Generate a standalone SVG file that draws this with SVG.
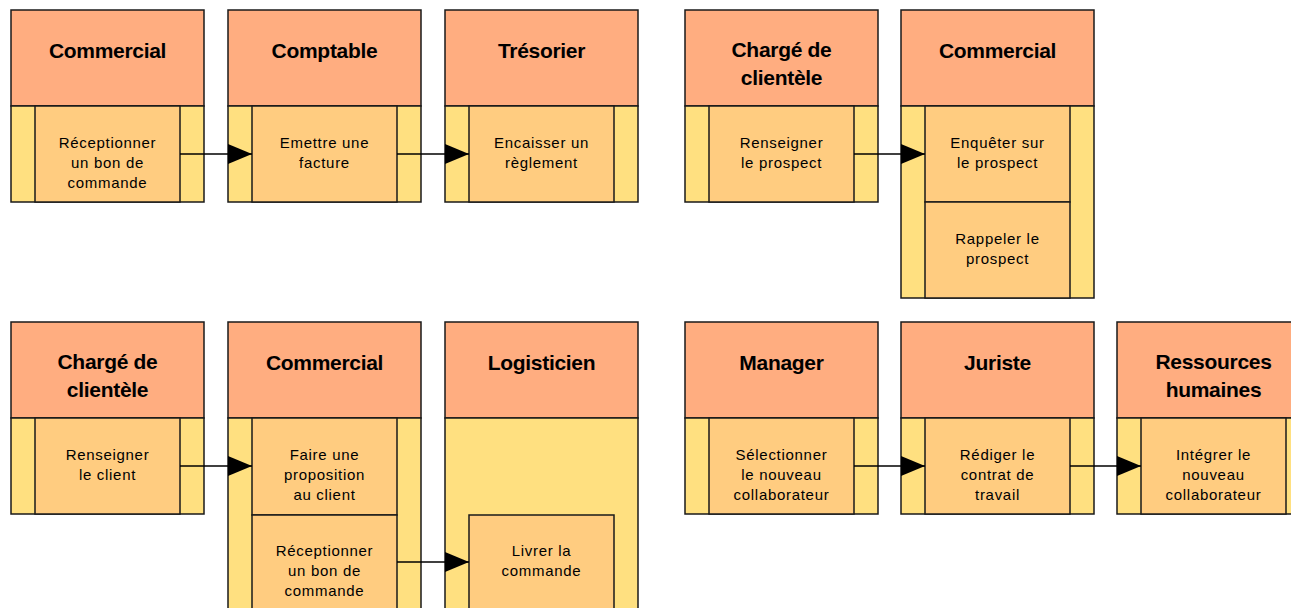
<svg xmlns="http://www.w3.org/2000/svg" width="1291" height="608" viewBox="0 0 1291 608">
<style>
.hd{fill:#FFAD80;stroke:#1a1a1a;stroke-width:1.5}
.bd{fill:#FFE080;stroke:#1a1a1a;stroke-width:1.5}
.tk{fill:#FFCC80;stroke:#1a1a1a;stroke-width:1.5}
.ht{font-family:"Liberation Sans",Arial,sans-serif;font-weight:bold;font-size:21px;text-anchor:middle;fill:#000;letter-spacing:-0.3px}
.tt{font-family:"Liberation Sans",Arial,sans-serif;font-size:15px;text-anchor:middle;fill:#000;letter-spacing:0.7px}
.cn{stroke:#000;stroke-width:1.5;fill:none;marker-end:url(#ah)}
</style>
<defs>
<marker id="ah" markerUnits="userSpaceOnUse" markerWidth="24" markerHeight="20" refX="24" refY="10" orient="auto">
<path d="M0,0 L24,10 L0,20 z" fill="#000"/>
</marker>
</defs>
<rect width="1291" height="608" fill="#fff"/>

<!-- Row 1 -->
<g id="lane-commercial-1">
<rect class="hd" x="11" y="10" width="193" height="96"/>
<text class="ht" x="107.5" y="58">Commercial</text>
<rect class="bd" x="11" y="106" width="193" height="96"/>
<g id="task-receptionner-1">
<rect class="tk" x="35" y="106" width="145" height="96"/>
<text class="tt" x="107.5" y="148">Réceptionner</text>
<text class="tt" x="107.5" y="168">un bon de</text>
<text class="tt" x="107.5" y="188">commande</text>
</g>
</g>

<g id="lane-comptable">
<rect class="hd" x="228" y="10" width="193" height="96"/>
<text class="ht" x="324.5" y="58">Comptable</text>
<rect class="bd" x="228" y="106" width="193" height="96"/>
<g id="task-emettre">
<rect class="tk" x="252" y="106" width="145" height="96"/>
<text class="tt" x="324.5" y="148">Emettre une</text>
<text class="tt" x="324.5" y="168">facture</text>
</g>
</g>

<g id="lane-tresorier">
<rect class="hd" x="445" y="10" width="193" height="96"/>
<text class="ht" x="541.5" y="58">Trésorier</text>
<rect class="bd" x="445" y="106" width="193" height="96"/>
<g id="task-encaisser">
<rect class="tk" x="469" y="106" width="145" height="96"/>
<text class="tt" x="541.5" y="148">Encaisser un</text>
<text class="tt" x="541.5" y="168">règlement</text>
</g>
</g>

<g id="lane-charge-1">
<rect class="hd" x="685" y="10" width="193" height="96"/>
<text class="ht" x="781.5" y="57">Chargé de</text>
<text class="ht" x="781.5" y="85">clientèle</text>
<rect class="bd" x="685" y="106" width="193" height="96"/>
<g id="task-renseigner-prospect">
<rect class="tk" x="709" y="106" width="145" height="96"/>
<text class="tt" x="781.5" y="148">Renseigner</text>
<text class="tt" x="781.5" y="168">le prospect</text>
</g>
</g>

<g id="lane-commercial-2">
<rect class="hd" x="901" y="10" width="193" height="96"/>
<text class="ht" x="997.5" y="58">Commercial</text>
<rect class="bd" x="901" y="106" width="193" height="192"/>
<g id="task-enqueter">
<rect class="tk" x="925" y="106" width="145" height="96"/>
<text class="tt" x="997.5" y="148">Enquêter sur</text>
<text class="tt" x="997.5" y="168">le prospect</text>
</g>
<g id="task-rappeler">
<rect class="tk" x="925" y="202" width="145" height="96"/>
<text class="tt" x="997.5" y="244">Rappeler le</text>
<text class="tt" x="997.5" y="264">prospect</text>
</g>
</g>

<!-- Row 2 -->
<g id="lane-charge-2">
<rect class="hd" x="11" y="322" width="193" height="96"/>
<text class="ht" x="107.5" y="369">Chargé de</text>
<text class="ht" x="107.5" y="397">clientèle</text>
<rect class="bd" x="11" y="418" width="193" height="96"/>
<g id="task-renseigner-client">
<rect class="tk" x="35" y="418" width="145" height="96"/>
<text class="tt" x="107.5" y="460">Renseigner</text>
<text class="tt" x="107.5" y="480">le client</text>
</g>
</g>

<g id="lane-commercial-3">
<rect class="hd" x="228" y="322" width="193" height="96"/>
<text class="ht" x="324.5" y="370">Commercial</text>
<rect class="bd" x="228" y="418" width="193" height="200"/>
<g id="task-proposition">
<rect class="tk" x="252" y="418" width="145" height="97"/>
<text class="tt" x="324.5" y="460">Faire une</text>
<text class="tt" x="324.5" y="480">proposition</text>
<text class="tt" x="324.5" y="500">au client</text>
</g>
<g id="task-receptionner-2">
<rect class="tk" x="252" y="515" width="145" height="103"/>
<text class="tt" x="324.5" y="556">Réceptionner</text>
<text class="tt" x="324.5" y="576">un bon de</text>
<text class="tt" x="324.5" y="596">commande</text>
</g>
</g>

<g id="lane-logisticien">
<rect class="hd" x="445" y="322" width="193" height="96"/>
<text class="ht" x="541.5" y="370">Logisticien</text>
<rect class="bd" x="445" y="418" width="193" height="200"/>
<g id="task-livrer">
<rect class="tk" x="469" y="515" width="145" height="103"/>
<text class="tt" x="541.5" y="556">Livrer la</text>
<text class="tt" x="541.5" y="576">commande</text>
</g>
</g>

<g id="lane-manager">
<rect class="hd" x="685" y="322" width="193" height="96"/>
<text class="ht" x="781.5" y="370">Manager</text>
<rect class="bd" x="685" y="418" width="193" height="96"/>
<g id="task-selectionner">
<rect class="tk" x="709" y="418" width="145" height="96"/>
<text class="tt" x="781.5" y="460">Sélectionner</text>
<text class="tt" x="781.5" y="480">le nouveau</text>
<text class="tt" x="781.5" y="500">collaborateur</text>
</g>
</g>

<g id="lane-juriste">
<rect class="hd" x="901" y="322" width="193" height="96"/>
<text class="ht" x="997.5" y="370">Juriste</text>
<rect class="bd" x="901" y="418" width="193" height="96"/>
<g id="task-rediger">
<rect class="tk" x="925" y="418" width="145" height="96"/>
<text class="tt" x="997.5" y="460">Rédiger le</text>
<text class="tt" x="997.5" y="480">contrat de</text>
<text class="tt" x="997.5" y="500">travail</text>
</g>
</g>

<g id="lane-rh">
<rect class="hd" x="1117" y="322" width="193" height="96"/>
<text class="ht" x="1213.5" y="369">Ressources</text>
<text class="ht" x="1213.5" y="397">humaines</text>
<rect class="bd" x="1117" y="418" width="193" height="96"/>
<g id="task-integrer">
<rect class="tk" x="1141" y="418" width="145" height="96"/>
<text class="tt" x="1213.5" y="460">Intégrer le</text>
<text class="tt" x="1213.5" y="480">nouveau</text>
<text class="tt" x="1213.5" y="500">collaborateur</text>
</g>
</g>

<g id="connectors">
<line class="cn" x1="180" y1="154" x2="252" y2="154"/>
<line class="cn" x1="397" y1="154" x2="469" y2="154"/>
<line class="cn" x1="854" y1="154" x2="925" y2="154"/>
<line class="cn" x1="180" y1="466" x2="252" y2="466"/>
<line class="cn" x1="397" y1="562" x2="469" y2="562"/>
<line class="cn" x1="854" y1="466" x2="925" y2="466"/>
<line class="cn" x1="1070" y1="466" x2="1141" y2="466"/>
</g>
</svg>
